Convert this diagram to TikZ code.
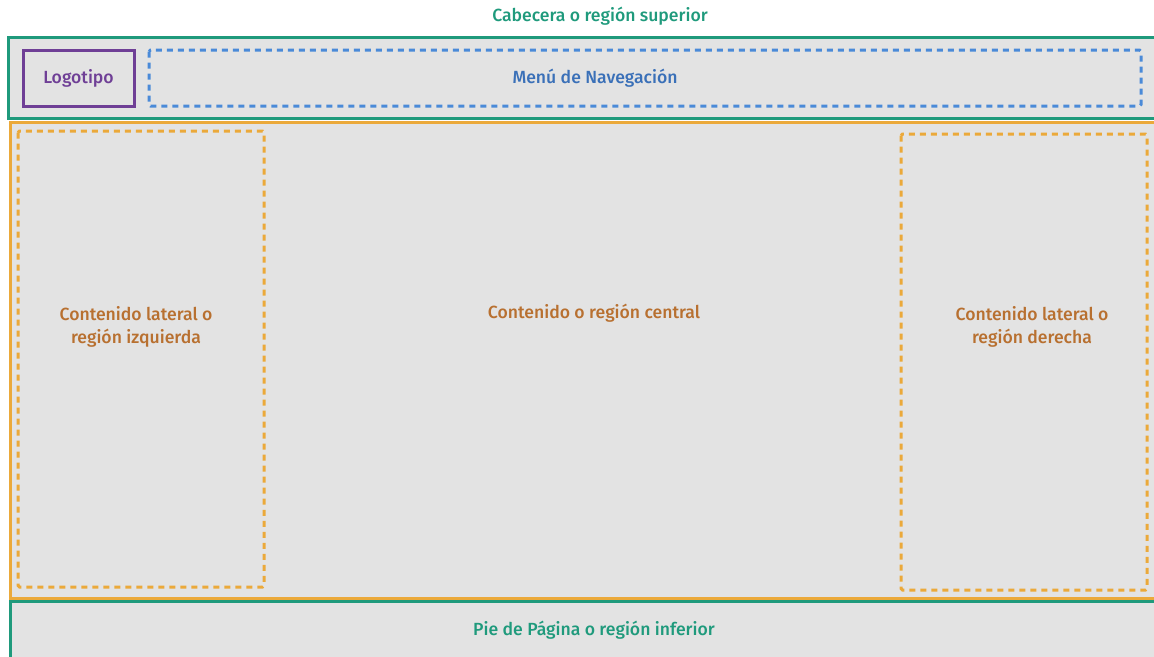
\documentclass[tikz,border=0pt]{standalone}
\usepackage{fontspec}
\setmainfont{Fira Sans}[UprightFont=* Medium]
\definecolor{grn}{HTML}{1F9A7C}
\definecolor{org}{HTML}{EBA93A}
\definecolor{orgtxt}{HTML}{B87030}
\definecolor{pur}{HTML}{6F3F96}
\definecolor{blu}{HTML}{4A8AD8}
\definecolor{bluetxt}{HTML}{3A70B8}
\definecolor{bg}{HTML}{E3E3E3}
\tikzset{
  x=1pt,y=-1pt,
  region/.style={fill=bg, line width=3pt},
  dashbox/.style={line width=3pt, dash pattern=on 6pt off 5pt, rounded corners=1.5pt},
  lbl/.style={font=\fontsize{17.6}{22.5}\selectfont, align=center, inner sep=0pt}
}
\begin{document}
\begin{tikzpicture}
\useasboundingbox (0,0) rectangle (1154,656);
\begin{scope}
\clip (0,0) rectangle (1154,656);
\draw[region, draw=grn] (8,37) rectangle (1170,118);
\draw[region, draw=org] (10,122) rectangle (1170,598);
\draw[region, draw=grn] (10,601) rectangle (1170,680);
\end{scope}
\node[draw=pur, line width=3pt, minimum width=111pt, minimum height=56pt] (logo) at (78.5,78) {};
\node[lbl, text=pur] at (logo.center) {Logotipo};
\draw[dashbox, draw=blu] (149,50) rectangle (1141,106);
\node[lbl, text=bluetxt] (nav) at (595,78) {Menú de Navegación};
\draw[dashbox, draw=org] (18,131) rectangle (264,587);
\draw[dashbox, draw=org] (901,134) rectangle (1147,590);
\node[lbl, text=grn] (head) at (600,16) {Cabecera o región superior};
\node[lbl, text=orgtxt] (center) at (594,313) {Contenido o región central};
\node[lbl, text=orgtxt] (left) at (136,327) {Contenido lateral o\\región izquierda};
\node[lbl, text=orgtxt] (right) at (1032,327) {Contenido lateral o\\región derecha};
\node[lbl, text=grn] (foot) at (594,630) {Pie de Página o región inferior};
\end{tikzpicture}
\end{document}
